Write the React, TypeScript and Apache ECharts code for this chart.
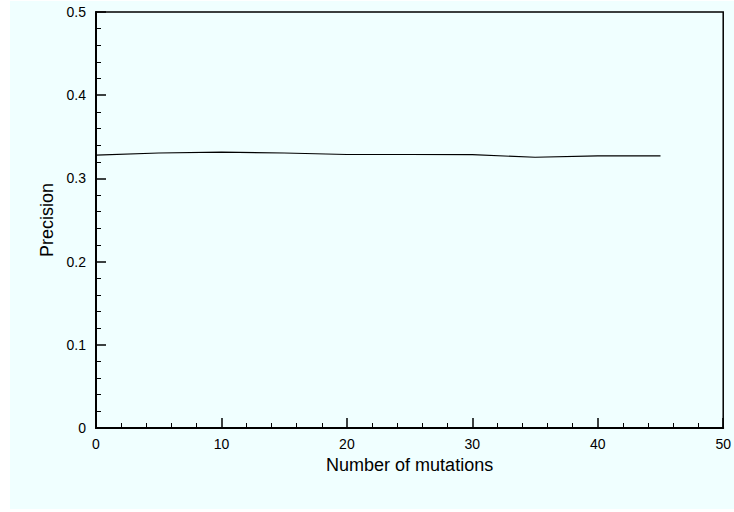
import React, { useEffect, useRef } from "react";
import * as echarts from "echarts";

const mutations = [0, 5, 10, 15, 20, 25, 30, 35, 40, 45];
const precision = [0.328, 0.3305, 0.3317, 0.3305, 0.3287, 0.3287, 0.3285, 0.3254, 0.327, 0.327];

export default function App() {
  const ref = useRef<HTMLDivElement>(null);
  useEffect(() => {
    if (!ref.current) return;
    const chart = echarts.init(ref.current, null, { renderer: "svg" });
    const font = "'Liberation Sans', Arial, sans-serif";
    chart.setOption({
      animation: false,
      backgroundColor: "#ffffff",
      graphic: [
        {
          type: "rect",
          z: -10,
          silent: true,
          shape: { x: 10, y: 1, width: 724, height: 508 },
          style: { fill: "#f0ffff" },
        },
      ],
      grid: {
        left: 96,
        right: 9,
        top: 12,
        bottom: 84,
        show: true,
        borderColor: "#000",
        borderWidth: 1.5,
        backgroundColor: "transparent",
      },
      xAxis: {
        type: "value",
        min: 0,
        max: 50,
        interval: 10,
        name: "Number of mutations",
        nameLocation: "middle",
        nameGap: 27,
        nameTextStyle: { fontFamily: font, fontSize: 18, color: "#000" },
        axisLine: { show: true, lineStyle: { color: "#000", width: 2 } },
        axisTick: { show: true, inside: true, length: 10, lineStyle: { color: "#000", width: 1.5 } },
        minorTick: { show: true, splitNumber: 5, length: 5, lineStyle: { color: "#000", width: 1 } },
        axisLabel: { fontFamily: font, fontSize: 14, color: "#000", margin: 9 },
        splitLine: { show: false },
      },
      yAxis: {
        type: "value",
        min: 0,
        max: 0.5,
        interval: 0.1,
        name: "Precision",
        nameLocation: "middle",
        nameGap: 37,
        nameTextStyle: { fontFamily: font, fontSize: 18, color: "#000" },
        axisLine: { show: true, lineStyle: { color: "#000", width: 2 } },
        axisTick: { show: true, inside: true, length: 10, lineStyle: { color: "#000", width: 1.5 } },
        minorTick: { show: true, splitNumber: 5, length: 5, lineStyle: { color: "#000", width: 1 } },
        axisLabel: { fontFamily: font, fontSize: 14, color: "#000", margin: 10 },
        splitLine: { show: false },
      },
      series: [
        {
          type: "line",
          data: mutations.map((m, i) => [m, precision[i]]),
          showSymbol: false,
          lineStyle: { color: "#000", width: 1.2 },
        },
      ],
    });
    return () => chart.dispose();
  }, []);
  return (
    <div
      ref={ref}
      style={{ position: "absolute", left: 0, top: 0, width: 734, height: 512 }}
    />
  );
}
